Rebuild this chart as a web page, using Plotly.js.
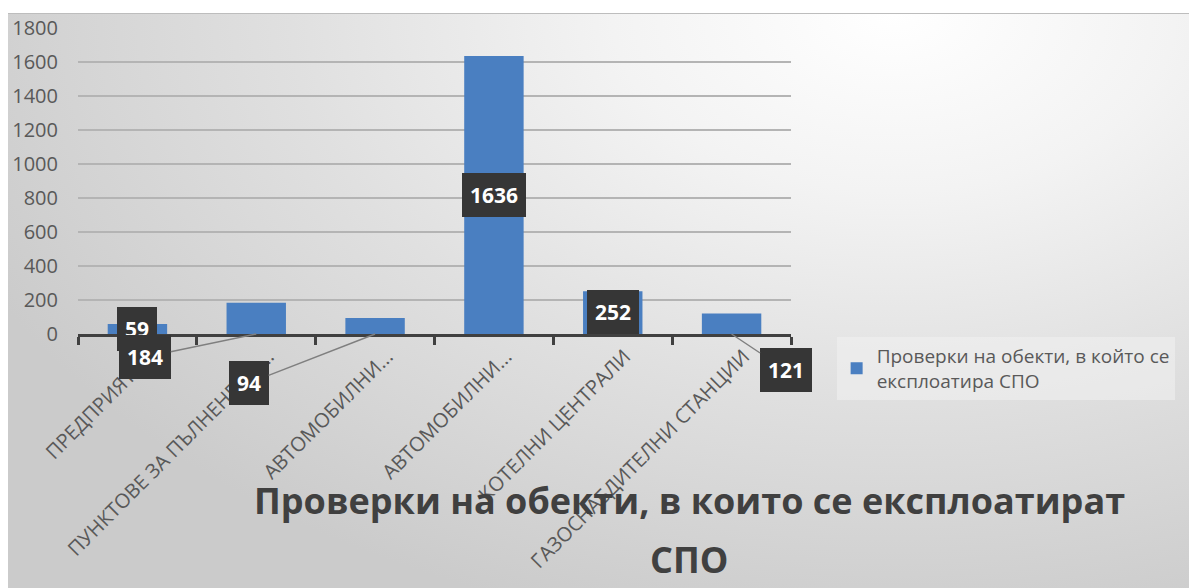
<!DOCTYPE html>
<html>
<head>
<meta charset="utf-8">
<script src="https://cdn.plot.ly/plotly-3.0.1.min.js"></script>
<style>
  html, body { margin: 0; padding: 0; background: #ffffff; }
  #bg { position: absolute; left: 8px; top: 13px; width: 1181px; height: 575px;
        background: radial-gradient(ellipse 85% 110% at 75% 0%, #ffffff 0%, #f3f3f3 28%, #e0e0e0 60%, #cbcbcb 100%);
        border-top: 1px solid #bdbdbd; }
  #chart { position: absolute; left: 0; top: 0; width: 1189px; height: 588px; }
</style>
</head>
<body>
<div id="bg"></div>
<div id="chart"></div>
<script>
// ---- data ----
const categories = ["c1", "c2", "c3", "c4", "c5", "c6"];
const tickLabels = ["ПРЕДПРИЯТИЯ", "ПУНКТОВЕ ЗА ПЪЛНЕНЕ НА...", "АВТОМОБИЛНИ...", "АВТОМОБИЛНИ...", "КОТЕЛНИ ЦЕНТРАЛИ", "ГАЗОСНАБДИТЕЛНИ СТАНЦИИ"];
const values = [59, 184, 94, 1636, 252, 121];
const seriesName = "Проверки на обекти, в който се<br>експлоатира СПО";
const titleLines = ["Проверки на обекти, в които се експлоатират", "СПО"];
const yTicks = [0, 200, 400, 600, 800, 1000, 1200, 1400, 1600, 1800];

// label placement (pixel offsets / modes) per bar
const labelStyle = [
  {mode: "top"},
  {mode: "arrow", ax: -111, ay: 23},
  {mode: "arrow", ax: -126, ay: 49},
  {mode: "center"},
  {mode: "insideEnd"},
  {mode: "arrow", ax: 54, ay: 36}
];

const boxStyle = {
  bgcolor: "#363636", bordercolor: "#363636", borderpad: 7,
  font: {family: "Open Sans, sans-serif", size: 21, color: "#ffffff", weight: "bold"}
};

const annotations = values.map((v, i) => {
  const s = labelStyle[i];
  const base = Object.assign({xref: "x", yref: "y", x: categories[i], text: "<b>" + v + "</b>"}, boxStyle);
  if (s.mode === "top") return Object.assign(base, {y: v, showarrow: false, yanchor: "middle", yshift: -5});
  if (s.mode === "center") return Object.assign(base, {y: v / 2, showarrow: false, yanchor: "middle"});
  if (s.mode === "insideEnd") return Object.assign(base, {y: v, showarrow: false, yanchor: "top", yshift: 1});
  return Object.assign(base, {y: 0, showarrow: true, arrowhead: 0, arrowwidth: 1.5, arrowcolor: "#7f7f7f",
                               ax: s.ax, ay: s.ay, standoff: 0});
});

const titleY = [-0.4575, -0.650];
titleLines.forEach((t, i) => annotations.push({
  xref: "paper", yref: "paper", x: 0.857, y: titleY[i], xanchor: "center", yanchor: "top",
  text: "<b>" + t + "</b>", showarrow: false,
  font: {family: "Open Sans, sans-serif", size: 36, color: "#404040"}
}));

const trace = {
  type: "bar", x: categories, y: values, name: seriesName,
  marker: {color: "#4a7fc1"}, showlegend: true, hoverinfo: "none"
};

const layout = {
  width: 1189, height: 588,
  margin: {l: 78, r: 398, t: 28, b: 254, autoexpand: false},
  paper_bgcolor: "rgba(0,0,0,0)", plot_bgcolor: "rgba(0,0,0,0)",
  bargap: 0.5,
  font: {family: "Open Sans, sans-serif", color: "#595959"},
  xaxis: {
    type: "category", tickvals: categories, ticktext: tickLabels, tickangle: -45,
    range: [-0.5, categories.length - 0.5], autorange: false,
    tickson: "boundaries", ticks: "outside", ticklen: 8, tickwidth: 3, tickcolor: "#404040",
    showline: true, linecolor: "#404040", linewidth: 3, ticklabelshift: 12,
    tickfont: {size: 20, color: "#595959"}, showgrid: false, zeroline: false
  },
  yaxis: {
    range: [0, 1800], autorange: false, tickvals: yTicks, ticks: "", showline: false,
    showgrid: true, gridcolor: "#b4b4b4", gridwidth: 2, zeroline: false,
    tickfont: {size: 20, color: "#595959"}, ticklabelstandoff: 19
  },
  legend: {
    x: 1.064, y: -0.01, xanchor: "left", yanchor: "top",
    bgcolor: "rgba(240,240,240,0.6)", borderwidth: 0,
    font: {size: 19, color: "#595959"}, itemwidth: 30
  },
  annotations: annotations
};

Plotly.newPlot("chart", [trace], layout, {staticPlot: true, displayModeBar: false});
</script>
</body>
</html>
